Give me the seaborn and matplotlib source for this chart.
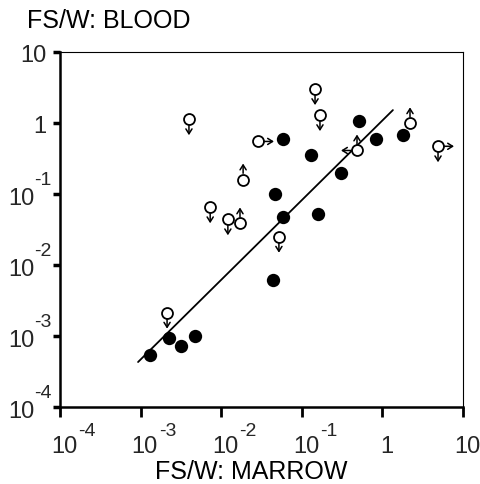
import matplotlib
matplotlib.use('Agg')
import matplotlib.pyplot as plt
import seaborn as sns

# measured points (filled = both values detected)
filled_x = [1.31e-3, 2.25e-3, 3.17e-3, 4.73e-3, 0.044, 0.0465, 0.058, 0.058,
            0.13, 0.159, 0.306, 0.513, 0.83, 1.8]
filled_y = [5.4e-4, 9.4e-4, 7.3e-4, 1.0e-3, 6.2e-3, 0.099, 0.047, 0.59,
            0.35, 0.052, 0.2, 1.06, 0.59, 0.67]

# censored points, arrows show direction of the limit
open_x = [3.98e-3, 0.0286, 0.0187, 7.3e-3, 0.0121, 0.0171, 0.052,
          0.146, 0.168, 0.484, 2.2, 4.9, 2.13e-3]
open_y = [1.13, 0.55, 0.16, 0.065, 0.044, 0.0385, 0.025,
          3.0, 1.29, 0.41, 0.99, 0.47, 2.13e-3]
open_dir = ['d', 'r', 'u', 'd', 'd', 'u', 'd', 'd', 'd', 'lu', 'u', 'rd', 'd']

# regression line end points
line_x = [9.3e-4, 1.35]
line_y = [4.3e-4, 1.52]

ticks = [1e-4, 1e-3, 1e-2, 1e-1, 1, 10]
tick_base = ['10', '10', '10', '10', '1', '10']
tick_exp = ['-4', '-3', '-2', '-1', '', '']

sns.set_style("white")
plt.rcParams['font.family'] = ['Liberation Sans', 'DejaVu Sans']

fig = plt.figure(figsize=(4.81, 4.85), dpi=100)
ax = fig.add_axes([60 / 481, 1 - 408 / 485, 403 / 481, 355 / 485])

sns.lineplot(x=line_x, y=line_y, ax=ax, color='black', lw=1.3, zorder=2)
sns.scatterplot(x=open_x, y=open_y, ax=ax, s=62, facecolor='white',
                edgecolor='black', linewidth=1.3, zorder=3)
sns.scatterplot(x=filled_x, y=filled_y, ax=ax, s=92, color='black',
                edgecolor='black', linewidth=0, zorder=4)

step = {'d': (0, -11.5), 'u': (0, 11.5), 'l': (-11.5, 0), 'r': (11.5, 0)}
for x, y, dirs in zip(open_x, open_y, open_dir):
    for d in dirs:
        ax.annotate('', xy=(x, y), xytext=step[d], textcoords='offset points',
                    arrowprops=dict(arrowstyle='<-,head_length=0.35,head_width=0.22',
                                    color='black', lw=1.1, shrinkA=0, shrinkB=4.5),
                    zorder=3)

ax.set_xscale('log')
ax.set_yscale('log')
ax.set_xlim(1e-4, 10)
ax.set_ylim(1e-4, 10)
ax.set_xticks(ticks)
ax.set_yticks(ticks)
ax.set_xticklabels([])
ax.set_yticklabels([])
ax.minorticks_off()

for side in ['left', 'bottom']:
    ax.spines[side].set_linewidth(1.8)
for side in ['top', 'right']:
    ax.spines[side].set_linewidth(0.8)
for s in ax.spines.values():
    s.set_color('black')

ax.tick_params(axis='x', direction='out', length=7, width=2, colors='black', bottom=True)
ax.tick_params(axis='y', direction='out', length=5, width=2.5, colors='black', left=True)

# tick labels: "10" with a raised exponent, like the original figure
base_fs = 17
exp_fs = 14
xtr = ax.get_xaxis_transform()
ytr = ax.get_yaxis_transform()
for t, b, e in zip(ticks, tick_base, tick_exp):
    ax.annotate(b, xy=(t, 0), xycoords=xtr, xytext=(3, -32.4),
                textcoords='offset points', ha='center', va='baseline',
                fontsize=base_fs, annotation_clip=False)
    if e:
        ax.annotate(e, xy=(t, 0), xycoords=xtr, xytext=(13, -20.3),
                    textcoords='offset points', ha='left', va='baseline',
                    fontsize=exp_fs, annotation_clip=False)
        ax.annotate(b, xy=(0, t), xycoords=ytr, xytext=(-18, -7),
                    textcoords='offset points', ha='right', va='baseline',
                    fontsize=base_fs, annotation_clip=False)
        ax.annotate(e, xy=(0, t), xycoords=ytr, xytext=(-18.5, 7.5),
                    textcoords='offset points', ha='left', va='baseline',
                    fontsize=exp_fs, annotation_clip=False)
    else:
        ax.annotate(b, xy=(0, t), xycoords=ytr, xytext=(-10, -6.5),
                    textcoords='offset points', ha='right', va='baseline',
                    fontsize=base_fs, annotation_clip=False)

fig.text(251 / 481, 1 - 479 / 485, 'FS/W: MARROW', fontsize=18,
         va='baseline', ha='center', color='black')
fig.text(27 / 481, 1 - 28 / 485, 'FS/W: BLOOD', fontsize=18,
         va='baseline', ha='left', color='black')

fig.savefig('out.png', dpi=100)
plt.close()
